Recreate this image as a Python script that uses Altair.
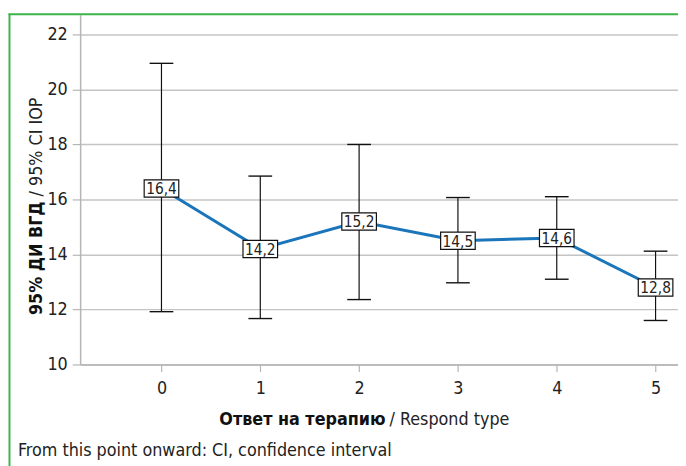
import altair as alt
import pandas as pd

# Data
respond_type = [0, 1, 2, 3, 4, 5]
mean_iop = [16.4, 14.2, 15.2, 14.5, 14.6, 12.8]
ci_low = [11.92, 11.67, 12.36, 12.97, 13.1, 11.6]
ci_high = [20.95, 16.85, 18.0, 16.07, 16.1, 14.12]
labels = ["16,4", "14,2", "15,2", "14,5", "14,6", "12,8"]
y_ticks = [10, 12, 14, 16, 18, 20, 22]
x_ticks = [0, 1, 2, 3, 4, 5]

df = pd.DataFrame({"x": respond_type, "m": mean_iop, "lo": ci_low,
                   "hi": ci_high, "lab": labels})

FONT = "'Liberation Sans Narrow', 'DejaVu Sans Condensed', 'Roboto Condensed', Roboto, sans-serif"
W, H = 605, 354

xs = alt.Scale(domain=[-0.823, 5.227], nice=False, zero=False)
ys = alt.Scale(domain=[10, 22.72], nice=False, zero=False)

xenc = alt.X("x:Q", scale=xs, axis=alt.Axis(
    values=x_ticks, format="d", title=None, grid=False, domainColor="#b5b5b5",
    tickColor="#b5b5b5", tickSize=7, labelFont=FONT, labelFontSize=18,
    labelColor="#222", labelPadding=8, domainWidth=1.5, tickWidth=1.2))

base = alt.Chart(df)

rules = base.mark_rule(color="#111", strokeWidth=1.2).encode(
    x=xenc,
    y=alt.Y("lo:Q", scale=ys, axis=alt.Axis(
        values=y_ticks, format="d", title=None, gridColor="#c4c4c4", gridWidth=1.5,
        domainColor="#b5b5b5", tickColor="#b5b5b5", tickSize=8,
        labelFont=FONT, labelFontSize=18, labelColor="#222",
        labelPadding=5, domainWidth=1.5, tickWidth=1.2)),
    y2="hi:Q")

cap_shape = "M-1,0L1,0"
cap_lo = base.mark_point(shape=cap_shape, size=576, color="#111",
                         strokeWidth=1.4, opacity=1).encode(
    x=alt.X("x:Q", scale=xs), y=alt.Y("lo:Q", scale=ys))
cap_hi = base.mark_point(shape=cap_shape, size=576, color="#111",
                         strokeWidth=1.4, opacity=1).encode(
    x=alt.X("x:Q", scale=xs), y=alt.Y("hi:Q", scale=ys))

line = base.mark_line(color="#1b75bb", strokeWidth=3).encode(
    x=alt.X("x:Q", scale=xs), y=alt.Y("m:Q", scale=ys))

boxes = base.mark_point(shape="M-1,-0.5L1,-0.5L1,0.5L-1,0.5Z", size=1225,
                        filled=True, fill="white", stroke="#111",
                        strokeWidth=1.2, opacity=1).encode(
    x=alt.X("x:Q", scale=xs), y=alt.Y("m:Q", scale=ys))

texts = base.mark_text(font=FONT, fontSize=15.5, color="#222",
                       baseline="middle", dy=1).encode(
    x=alt.X("x:Q", scale=xs), y=alt.Y("m:Q", scale=ys), text="lab:N")

# Titles and frame (annotation text, placed in pixel space)
ann = pd.DataFrame({"t": [0]})
a = alt.Chart(ann)
xt_bold = a.mark_text(text="Ответ на терапию", font=FONT, fontSize=18,
                      fontWeight="bold", align="right", baseline="alphabetic",
                      color="#111").encode(x=alt.value(309), y=alt.value(415))
xt_reg = a.mark_text(text="/ Respond type", font=FONT, fontSize=18,
                     align="left", baseline="alphabetic",
                     color="#222").encode(x=alt.value(313), y=alt.value(415))
yt_bold = a.mark_text(text="95% ДИ ВГД", font=FONT, fontSize=18,
                      fontWeight="bold", align="right", baseline="alphabetic",
                      angle=270, color="#111").encode(x=alt.value(-39), y=alt.value(189))
yt_reg = a.mark_text(text="/ 95% CI IOP", font=FONT, fontSize=18,
                     align="left", baseline="alphabetic", angle=270,
                     color="#222").encode(x=alt.value(-39), y=alt.value(184))
footer = a.mark_text(text="From this point onward: CI, confidence interval",
                     font=FONT, fontSize=18, align="left",
                     baseline="alphabetic", color="#222").encode(
    x=alt.value(-63), y=alt.value(447))

GREEN = "#3cb44b"
frame_left = a.mark_rule(color=GREEN, strokeWidth=2).encode(
    x=alt.value(-71.5), y=alt.value(-1), y2=alt.value(460))
frame_top = a.mark_rule(color=GREEN, strokeWidth=2).encode(
    x=alt.value(-72.5), x2=alt.value(W + 5), y=alt.value(-0.5))

chart = alt.layer(
    rules, cap_lo, cap_hi, line, boxes, texts,
    xt_bold, xt_reg, yt_bold, yt_reg, footer, frame_left, frame_top
).properties(
    width=W, height=H,
    autosize=alt.AutoSizeParams(type="none"),
    padding={"left": 73, "top": 4, "right": 0, "bottom": 100},
    background="white",
).configure_view(stroke=None)

chart.save("out.html", embed_options={"renderer": "svg", "actions": False})
